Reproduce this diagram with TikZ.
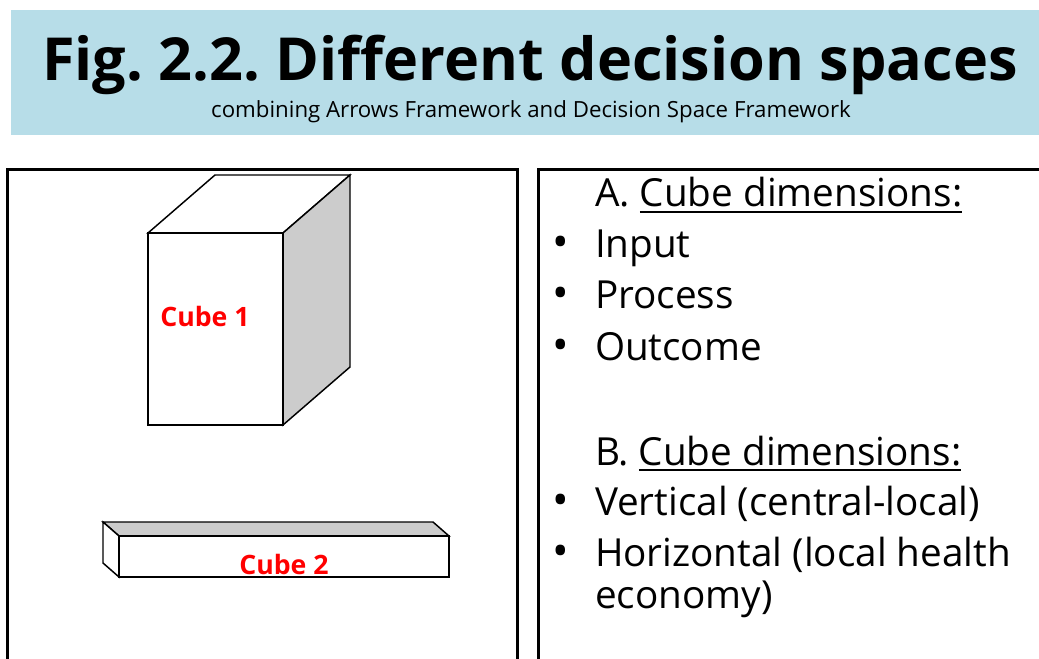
\documentclass[tikz,border=0pt]{standalone}
\usepackage{fontspec}
\setmainfont{Open Sans}
\usepackage{xcolor}
\usepackage{tikz}
\usetikzlibrary{positioning}
\definecolor{BannerBlue}{HTML}{B7DDE8}
\definecolor{SideGray}{HTML}{CCCCCC}
\definecolor{LabelRed}{HTML}{FF0000}
\definecolor{TextDark}{HTML}{000000}
\newcommand{\thickul}[1]{\leavevmode\vtop{\hbox{#1}\kern2.6pt\hrule height 1.6pt}}
\frenchspacing

\begin{document}
\begin{tikzpicture}[x=0.75pt,y=-0.75pt,
    every node/.style={inner sep=0pt,outer sep=0pt,text=TextDark},
    panel/.style={line width=2.25pt,draw=black},
    face/.style={line width=1.1pt,draw=black,line join=miter},
    item/.style={anchor=base west,font=\fontsize{29}{36}\selectfont},
    dot/.style={anchor=base west,font=\fontsize{33}{36}\selectfont},
    cubelabel/.style={font=\fontsize{20}{24}\selectfont\bfseries,text=LabelRed}]
      \useasboundingbox (0,0) rectangle (1039,659);
      \fill[BannerBlue] (11,10) rectangle (1039,135);
      \node[anchor=base,font=\fontsize{44.5}{52}\selectfont\bfseries] (title) at (530,81) {Fig. 2.2. Different decision spaces};
      \node[anchor=base,font=\fontsize{16.7}{20}\selectfont] (subtitle) at (531,118) {combining Arrows Framework and Decision Space Framework};
      \draw[panel] (7,664) -- (7,170) -- (517,170) -- (517,664);
      \draw[panel] (538,664) -- (538,170) -- (1044,170);
      % cube 1
      \filldraw[face,fill=white]    (148,233) -- (215,175) -- (350,175) -- (283,233) -- cycle;
      \filldraw[face,fill=SideGray] (283,233) -- (350,175) -- (350,367) -- (283,425) -- cycle;
      \filldraw[face,fill=white]    (148,233) rectangle (283,425);
      \node[cubelabel] (cubeone) at (205,317) {Cube 1};
      % cube 2
      \filldraw[face,fill=SideGray] (119,536) -- (103,522) -- (433,522) -- (449,536) -- cycle;
      \filldraw[face,fill=white]    (119,536) -- (103,522) -- (103,563) -- (119,577) -- cycle;
      \filldraw[face,fill=white]    (119,536) rectangle (449,577);
      \node[cubelabel] (cubetwo) at (284,564) {Cube 2};
      % dimensions
      \node[item] (headA) at (595,207) {A. \thickul{Cube dimensions:}};
      \node[dot] (dotin)  at (552,258) {•};
      \node[item] (input) at (595,258) {Input};
      \node[dot] (dotpr)  at (552,309) {•};
      \node[item] (process) at (595,309) {Process};
      \node[dot] (dotout) at (552,360) {•};
      \node[item] (outcome) at (595,360) {Outcome};
      \node[item] (headB) at (595,465) {B. \thickul{Cube dimensions:}};
      \node[dot] (dotver) at (552,515) {•};
      \node[item] (vertical) at (595,515) {Vertical (central-local)};
      \node[dot] (dothor) at (552,566) {•};
      \node[item] (horizontal) at (595,566) {Horizontal (local health};
      \node[item] (economy) at (595,608) {economy)};
    \end{tikzpicture}
\end{document}
